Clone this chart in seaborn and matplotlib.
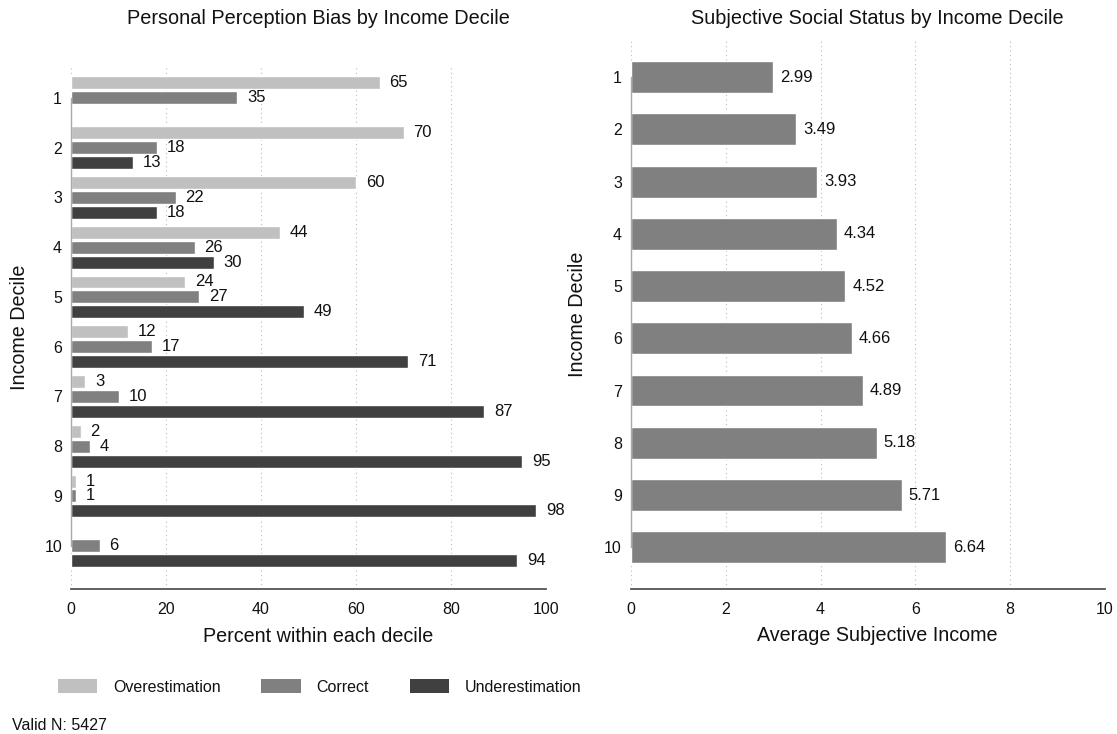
import numpy as np
import pandas as pd
import matplotlib
matplotlib.use("Agg")
import matplotlib.pyplot as plt
import seaborn as sns
from matplotlib.patches import Patch

# Data
deciles = ['1', '2', '3', '4', '5', '6', '7', '8', '9', '10']
overestimation = [65, 70, 60, 44, 24, 12, 3, 2, 1, 0]
correct = [35, 18, 22, 26, 27, 17, 10, 4, 1, 6]
underestimation = [np.nan, 13, 18, 30, 49, 71, 87, 95, 98, 94]
subjective_income = [2.99, 3.49, 3.93, 4.34, 4.52, 4.66, 4.89, 5.18, 5.71, 6.64]
bias_labels = ['Overestimation', 'Correct', 'Underestimation']
bias_colors = ['#c0c0c0', '#808080', '#404040']
valid_n = 5427

sns.set_style('white')
plt.rcParams['font.family'] = ['Liberation Sans', 'DejaVu Sans']
plt.rcParams['font.size'] = 12
plt.rcParams['text.color'] = '#111111'
plt.rcParams['axes.labelcolor'] = '#111111'
plt.rcParams['xtick.labelcolor'] = '#111111'
plt.rcParams['ytick.labelcolor'] = '#111111'

bias_df = pd.DataFrame({
    'Decile': deciles * 3,
    'Percent': overestimation + correct + underestimation,
    'Bias': sum([[b] * len(deciles) for b in bias_labels], []),
})
status_df = pd.DataFrame({'Decile': deciles, 'Income': subjective_income})

fig = plt.figure(figsize=(11.17, 7.34), dpi=100)
ax1 = fig.add_axes([0.0636, 0.1975, 0.4252, 0.7139])
ax2 = fig.add_axes([0.5649, 0.1975, 0.4244, 0.7480])

# Left panel: perception bias
sns.barplot(data=bias_df, y='Decile', x='Percent', hue='Bias', order=deciles,
            hue_order=bias_labels, palette=bias_colors, orient='h',
            width=0.9, gap=0.13, saturation=1, ax=ax1, legend=False)
for cont in ax1.containers:
    labels = ['' if (np.isnan(v) or v == 0) else f'{v:.0f}' for v in cont.datavalues]
    ax1.bar_label(cont, labels=labels, padding=7, fontsize=12, color='#111111')
ax1.set_xlim(0, 100)
ax1.set_ylim(9.87, -0.66)
ax1.set_xticks(range(0, 101, 20))
ax1.set_xlabel('Percent within each decile', fontsize=14.2)
ax1.set_ylabel('Income Decile', fontsize=14.2)
ax1.xaxis.set_label_coords(0.52, -0.072)
ax1.yaxis.set_label_coords(-0.088, 0.5)

# Right panel: subjective status
sns.barplot(data=status_df, y='Decile', x='Income', order=deciles, color='#808080',
            orient='h', width=0.61, saturation=1, ax=ax2)
ax2.bar_label(ax2.containers[0], fmt='%.2f', padding=5, fontsize=12, color='#111111')
ax2.set_xlim(0, 10)
ax2.set_ylim(9.8, -0.71)
ax2.set_xticks(range(0, 11, 2))
ax2.set_xlabel('Average Subjective Income', fontsize=14.2)
ax2.set_ylabel('Income Decile', fontsize=14.2)
ax2.xaxis.set_label_coords(0.519, -0.068)
ax2.yaxis.set_label_coords(-0.093, 0.5)

for ax in (ax1, ax2):
    ax.grid(axis='x', linestyle=(0, (1, 3)), color='#bbbbbb', linewidth=0.8)
    ax.set_axisbelow(True)
    for s in ('top', 'right'):
        ax.spines[s].set_visible(False)
    ax.spines['left'].set_color('#aaaaaa')
    ax.spines['left'].set_linewidth(1.0)
    ax.spines['left'].set_bounds(0, 9)
    ax.spines['bottom'].set_color('#555555')
    ax.spines['bottom'].set_linewidth(1.3)
    ax.tick_params(axis='x', length=5, width=1, color='#555555', labelsize=11.5, pad=4)
    ax.tick_params(axis='y', length=0, labelsize=11.5, pad=6.5)

fig.text(318 / 1117, 1 - 19 / 734, 'Personal Perception Bias by Income Decile',
         ha='center', va='center', fontsize=14.3)
fig.text(877 / 1117, 1 - 19 / 734, 'Subjective Social Status by Income Decile',
         ha='center', va='center', fontsize=14.3)

handles = [Patch(facecolor=c, edgecolor='none') for c in bias_colors]
fig.legend(handles, bias_labels, loc='center left', bbox_to_anchor=(58 / 1117, 1 - 687 / 734),
           ncol=3, frameon=False, fontsize=11.5, handlelength=2.45, handleheight=1.0,
           handletextpad=1.0, columnspacing=2.55, borderpad=0, borderaxespad=0)
fig.text(12 / 1117, 1 - 725 / 734, f'Valid N: {valid_n}', ha='left', va='center', fontsize=11.5)

fig.savefig('out.png', dpi=100)
